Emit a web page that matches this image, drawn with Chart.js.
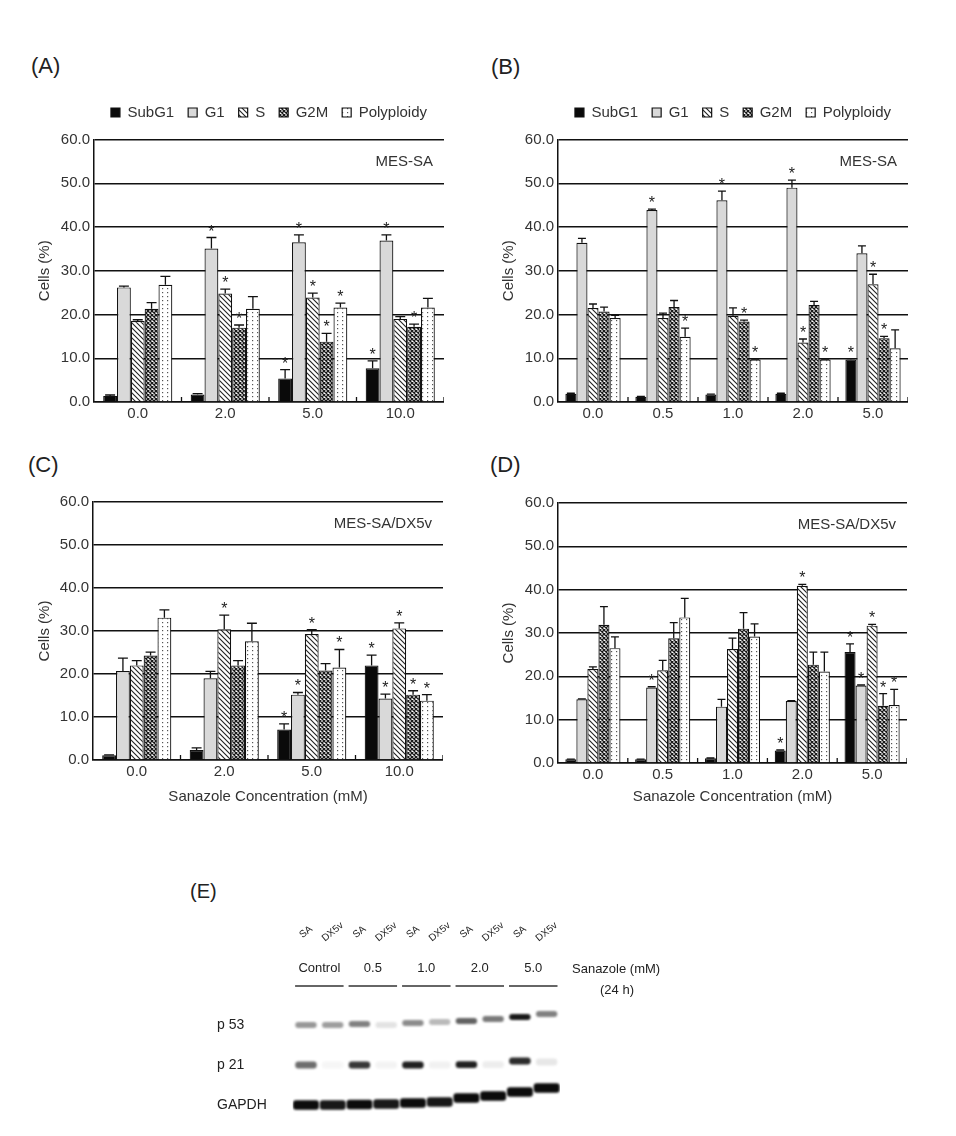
<!DOCTYPE html>
<html><head><meta charset="utf-8">
<script src="https://cdn.jsdelivr.net/npm/chart.js@4.4.1/dist/chart.umd.min.js"></script>
<style>
html,body{margin:0;padding:0;background:#fff;}
#page{position:relative;width:956px;height:1136px;overflow:hidden;font-family:"Liberation Sans",Arial,sans-serif;background:#fff;}
canvas{position:absolute;}
.plabel{position:absolute;font-size:22px;line-height:22px;color:#222;}
</style></head><body><div id="page">
<div class="plabel" style="left:31px;top:55px">(A)</div>
<div class="plabel" style="left:491px;top:56px">(B)</div>
<div class="plabel" style="left:28px;top:454px">(C)</div>
<div class="plabel" style="left:490px;top:454px">(D)</div>
<div class="plabel" style="left:190px;top:881px;font-size:20px;line-height:20px">(E)</div>
<canvas id="cA" width="444" height="341" style="left:0px;top:91px"></canvas>
<canvas id="cB" width="444" height="341" style="left:464px;top:91px"></canvas>
<canvas id="cC" width="443" height="321" style="left:0px;top:489px"></canvas>
<canvas id="cD" width="443" height="323" style="left:464px;top:490px"></canvas>
<canvas id="cE" width="520" height="266" style="left:180px;top:870px"></canvas>
</div>
<script>
// ---------- categories / labels ----------
const phases = ['SubG1', 'G1', 'S', 'G2M', 'Polyploidy'];
const concAC = ['0.0', '2.0', '5.0', '10.0'];
const concBD = ['0.0', '0.5', '1.0', '2.0', '5.0'];
const yTickValues = [0, 10, 20, 30, 40, 50, 60];

// ---------- Panel A (MES-SA) ----------
const aSubG1 = [1.4, 1.7, 5.4, 7.7];
const aG1 = [26.2, 35.1, 36.5, 36.9];
const aS = [18.5, 24.8, 23.9, 19.0];
const aG2M = [21.3, 17.0, 13.8, 17.2];
const aPoly = [26.8, 21.3, 21.6, 21.6];
const aSubG1Err = [0.2, 0.2, 2.0, 1.7];
const aG1Err = [0.3, 2.5, 1.7, 1.3];
const aSErr = [0.3, 1.0, 1.0, 0.5];
const aG2MErr = [1.4, 0.6, 1.9, 0.6];
const aPolyErr = [1.9, 2.8, 1.0, 2.1];
const aSubG1Sig = [0, 0, 1, 1];
const aG1Sig = [0, 1, 1, 1];
const aSSig = [0, 1, 1, 0];
const aG2MSig = [0, 1, 1, 1];
const aPolySig = [0, 0, 1, 0];

// ---------- Panel B (MES-SA) ----------
const bSubG1 = [1.9, 1.2, 1.7, 1.9, 9.7];
const bG1 = [36.4, 43.9, 46.1, 49.0, 34.0];
const bS = [21.5, 19.2, 19.7, 13.6, 26.9];
const bG2M = [20.7, 21.7, 18.4, 22.2, 14.6];
const bPoly = [19.2, 14.9, 9.7, 9.7, 12.3];
const bSubG1Err = [0.1, 0.1, 0.1, 0.1, 0.2];
const bG1Err = [1.0, 0.2, 2.1, 1.7, 1.7];
const bSErr = [0.9, 1.1, 1.8, 0.8, 2.3];
const bG2MErr = [1.0, 1.5, 0.3, 0.8, 0.4];
const bPolyErr = [0.6, 2.0, 0.1, 0.1, 4.2];
const bSubG1Sig = [0, 0, 0, 0, 1];
const bG1Sig = [0, 1, 1, 1, 0];
const bSSig = [0, 0, 0, 1, 1];
const bG2MSig = [0, 0, 1, 0, 1];
const bPolySig = [0, 1, 1, 1, 0];

// ---------- Panel C (MES-SA/DX5v) ----------
const cSubG1 = [1.1, 2.3, 7.1, 22.0];
const cG1 = [20.7, 19.0, 15.2, 14.3];
const cS = [22.0, 30.4, 29.3, 30.6];
const cG2M = [24.3, 22.0, 20.8, 15.2];
const cPoly = [33.1, 27.6, 21.5, 13.8];
const cSubG1Err = [0.1, 0.5, 1.3, 2.4];
const cG1Err = [3.0, 1.6, 0.5, 1.0];
const cSErr = [1.1, 3.3, 1.0, 1.3];
const cG2MErr = [0.8, 1.1, 1.6, 0.9];
const cPolyErr = [1.8, 4.2, 4.2, 1.4];
const cSubG1Sig = [0, 0, 1, 1];
const cG1Sig = [0, 0, 1, 1];
const cSSig = [0, 1, 1, 1];
const cG2MSig = [0, 0, 0, 1];
const cPolySig = [0, 0, 1, 1];

// ---------- Panel D (MES-SA/DX5v) ----------
const dSubG1 = [0.85, 0.85, 1.1, 2.9, 25.6];
const dG1 = [14.7, 17.4, 13.0, 14.3, 17.9];
const dS = [21.7, 21.4, 26.3, 40.9, 31.7];
const dG2M = [31.9, 28.8, 31.0, 22.7, 13.2];
const dPoly = [26.5, 33.6, 29.2, 21.1, 13.4];
const dSubG1Err = [0.05, 0.05, 0.05, 0.1, 1.9];
const dG1Err = [0.1, 0.2, 1.7, 0.1, 0.1];
const dSErr = [0.5, 2.3, 2.5, 0.3, 0.3];
const dG2MErr = [4.2, 3.6, 3.7, 2.9, 2.8];
const dPolyErr = [2.6, 4.4, 2.9, 4.5, 3.6];
const dSubG1Sig = [0, 0, 0, 1, 1];
const dG1Sig = [0, 1, 0, 0, 1];
const dSSig = [0, 0, 0, 1, 1];
const dG2MSig = [0, 0, 0, 0, 1];
const dPolySig = [0, 0, 0, 0, 1];

// ---------- Panel E (western blot) ----------
const lanes = ['SA', 'DX5v', 'SA', 'DX5v', 'SA', 'DX5v', 'SA', 'DX5v', 'SA', 'DX5v'];
const doseGroups = ['Control', '0.5', '1.0', '2.0', '5.0'];
const proteins = ['p 53', 'p 21', 'GAPDH'];
const p53Level = [0.45, 0.42, 0.55, 0.12, 0.5, 0.3, 0.68, 0.58, 1.0, 0.55];
const p21Level = [0.62, 0.04, 0.85, 0.05, 0.95, 0.06, 0.95, 0.08, 0.9, 0.1];
const gapdhLevel = [1.0, 0.95, 1.0, 0.95, 1.0, 0.95, 1.0, 1.0, 1.0, 1.0];
const p53Migration = [0, 0, 0.025, 0, 0.05, 0.075, 0.1, 0.15, 0.2, 0.275];
const p21Migration = [0, 0, 0, 0, 0, 0, 0.01, 0.01, 0.1, 0.075];
const gapdhMigration = [0, 0, 0.012, 0.025, 0.05, 0.075, 0.175, 0.225, 0.325, 0.425];
const treatmentLabel = 'Sanazole (mM)';
const timeLabel = '(24 h)';

// ---------- styling ----------
const FONT = '"Liberation Sans", Arial, sans-serif';
Chart.defaults.font.family = FONT;

function makePattern(kind) {
  const c = document.createElement('canvas');
  const g = c.getContext('2d');
  if (kind === 'hatch') {
    c.width = 5; c.height = 5;
    g.fillStyle = '#fff'; g.fillRect(0, 0, 5, 5);
    g.strokeStyle = '#222'; g.lineWidth = 1.1;
    g.beginPath();
    g.moveTo(-1, -1); g.lineTo(6, 6);
    g.moveTo(-1, 4); g.lineTo(1, 6);
    g.moveTo(4, -1); g.lineTo(6, 1);
    g.stroke();
  } else if (kind === 'cross') {
    c.width = 4; c.height = 4;
    g.fillStyle = '#fff'; g.fillRect(0, 0, 4, 4);
    g.strokeStyle = '#1a1a1a'; g.lineWidth = 1.3;
    g.beginPath();
    g.moveTo(-1, -1); g.lineTo(5, 5);
    g.moveTo(5, -1); g.lineTo(-1, 5);
    g.stroke();
  } else if (kind === 'dots') {
    c.width = 5; c.height = 4;
    g.fillStyle = '#fff'; g.fillRect(0, 0, 5, 4);
    g.fillStyle = '#555';
    g.fillRect(2, 1, 1.2, 1.2);
  }
  return g.createPattern(c, 'repeat');
}
const phaseFills = ['#0a0a0a', '#d9d9d9', makePattern('hatch'), makePattern('cross'), makePattern('dots')];

const panelDecor = {
  id: 'panelDecor',
  afterDatasetsDraw(chart, args, opts) {
    const { ctx, chartArea } = chart;
    const ys = chart.scales.y, xs = chart.scales.x;
    ctx.save();
    ctx.strokeStyle = '#111'; ctx.lineWidth = 1.3; ctx.fillStyle = '#222';
    ctx.font = '16px ' + FONT; ctx.textAlign = 'center'; ctx.textBaseline = 'alphabetic';
    chart.data.datasets.forEach((ds, di) => {
      chart.getDatasetMeta(di).data.forEach((bar, i) => {
        const top = ys.getPixelForValue(ds.data[i] + ds.errors[i]);
        const cap = bar.width * 0.36;
        ctx.beginPath();
        ctx.moveTo(bar.x, bar.y); ctx.lineTo(bar.x, top);
        ctx.moveTo(bar.x - cap, top); ctx.lineTo(bar.x + cap, top);
        ctx.stroke();
        if (ds.sig[i]) ctx.fillText('*', bar.x, top - 1);
      });
    });
    // inward category tick marks
    const n = xs.getLabels().length;
    const step = xs.width / n;
    ctx.lineWidth = 1.3;
    for (let i = 1; i <= n; i++) {
      const px = xs.left + i * step;
      ctx.beginPath(); ctx.moveTo(px, chartArea.bottom); ctx.lineTo(px, chartArea.bottom - 5); ctx.stroke();
    }
    ctx.font = '15px ' + FONT; ctx.textAlign = 'right'; ctx.textBaseline = 'middle'; ctx.fillStyle = '#333';
    ctx.fillText(opts.cellLine, chartArea.right - 11, chartArea.top + 22);
    ctx.restore();
  }
};

function makePanel(id, cats, vals, errs, sigs, opt) {
  const datasets = phases.map((p, k) => ({
    label: p, data: vals[k], errors: errs[k], sig: sigs[k],
    backgroundColor: phaseFills[k], borderColor: '#111', borderWidth: 1.2,
    categoryPercentage: 0.79, barPercentage: 1.0
  }));
  return new Chart(document.getElementById(id), {
    type: 'bar',
    data: { labels: cats, datasets },
    options: {
      responsive: false, animation: false,
      layout: { padding: { top: opt.legend ? 0 : 10, left: 0, right: 0, bottom: 0 } },
      plugins: {
        legend: { display: opt.legend, position: 'top', fullSize: false,
          labels: { boxWidth: 9, boxHeight: 9, padding: 14, color: '#333', font: { size: 15 } } },
        subtitle: { display: opt.legend, text: '', fullSize: false, weight: 500,
          padding: { top: 0, bottom: 1.5 }, font: { size: 8, lineHeight: 1 } },
        tooltip: { enabled: false },
        panelDecor: { cellLine: opt.cellLine }
      },
      scales: {
        x: {
          grid: { display: false, drawTicks: false },
          border: { color: '#111', width: 1.5 },
          ticks: { color: '#333', font: { size: 15 }, padding: 3 },
          title: { display: !!opt.xTitle, text: opt.xTitle || '', color: '#333', font: { size: 15 },
            padding: { top: 2, bottom: opt.titlePad || 0 } },
          afterFit: s => { s.height = opt.xh; }
        },
        y: {
          min: 0, max: 60,
          afterBuildTicks: s => { s.ticks = yTickValues.map(v => ({ value: v })); },
          ticks: { callback: v => Number(v).toFixed(1), color: '#333', font: { size: 15 }, padding: 4 },
          grid: { color: '#111', lineWidth: 1.5, drawTicks: false },
          border: { color: '#111', width: 1.5 },
          title: { display: true, text: 'Cells (%)', color: '#333', font: { size: 15 }, padding: { top: 36, bottom: 0 } },
          afterFit: s => { s.width = opt.yw; }
        }
      }
    },
    plugins: [panelDecor]
  });
}

makePanel('cA', concAC,
  [aSubG1, aG1, aS, aG2M, aPoly], [aSubG1Err, aG1Err, aSErr, aG2MErr, aPolyErr],
  [aSubG1Sig, aG1Sig, aSSig, aG2MSig, aPolySig],
  { legend: true, cellLine: 'MES-SA', yw: 94, xh: 30 });
makePanel('cB', concBD,
  [bSubG1, bG1, bS, bG2M, bPoly], [bSubG1Err, bG1Err, bSErr, bG2MErr, bPolyErr],
  [bSubG1Sig, bG1Sig, bSSig, bG2MSig, bPolySig],
  { legend: true, cellLine: 'MES-SA', yw: 94, xh: 30 });
makePanel('cC', concAC,
  [cSubG1, cG1, cS, cG2M, cPoly], [cSubG1Err, cG1Err, cSErr, cG2MErr, cPolyErr],
  [cSubG1Sig, cG1Sig, cSSig, cG2MSig, cPolySig],
  { legend: false, cellLine: 'MES-SA/DX5v', yw: 93, xh: 50, xTitle: 'Sanazole Concentration (mM)', titlePad: 4 });
makePanel('cD', concBD,
  [dSubG1, dG1, dS, dG2M, dPoly], [dSubG1Err, dG1Err, dSErr, dG2MErr, dPolyErr],
  [dSubG1Sig, dG1Sig, dSSig, dG2MSig, dPolySig],
  { legend: false, cellLine: 'MES-SA/DX5v', yw: 94, xh: 50, xTitle: 'Sanazole Concentration (mM)', titlePad: 7 });

// ---------- Blot ----------
function bandSpans(row, migration, thickness) {
  return migration.map(m => [row - m - thickness / 2, row - m + thickness / 2]);
}
const blurPlugin = {
  id: 'blurBands',
  beforeDatasetsDraw(c) { c.ctx.save(); c.ctx.filter = 'blur(0.9px)'; },
  afterDatasetsDraw(c) { c.ctx.restore(); }
};
const blotDecor = {
  id: 'blotDecor',
  afterDraw(chart) {
    const { ctx, chartArea } = chart;
    const xs = chart.scales.x;
    const half = (xs.getPixelForValue(1) - xs.getPixelForValue(0)) / 2;
    ctx.save();
    ctx.fillStyle = '#222'; ctx.strokeStyle = '#333';
    ctx.font = '10px ' + FONT; ctx.textAlign = 'center'; ctx.textBaseline = 'middle';
    lanes.forEach((l, i) => {
      ctx.save();
      ctx.translate(xs.getPixelForValue(i), chartArea.top - 73);
      ctx.rotate(-0.68);
      ctx.fillText(l, 0, 0);
      ctx.restore();
    });
    ctx.font = '13px ' + FONT; ctx.lineWidth = 1.6;
    doseGroups.forEach((g, k) => {
      const x0 = xs.getPixelForValue(2 * k) - half, x1 = xs.getPixelForValue(2 * k + 1) + half;
      ctx.fillText(g, (x0 + x1) / 2, chartArea.top - 37);
      ctx.beginPath(); ctx.moveTo(x0 + 2.5, chartArea.top - 19); ctx.lineTo(x1 - 2.5, chartArea.top - 19); ctx.stroke();
    });
    ctx.textAlign = 'left';
    ctx.fillText(treatmentLabel, chartArea.right + 12, chartArea.top - 36);
    ctx.textAlign = 'center';
    ctx.fillText(timeLabel, chartArea.right + 57, chartArea.top - 15);
    ctx.restore();
  }
};
new Chart(document.getElementById('cE'), {
  type: 'bar',
  data: {
    labels: lanes,
    datasets: [
      { label: proteins[0], data: bandSpans(0.5, p53Migration, 0.15),
        backgroundColor: p53Level.map(a => `rgba(25,25,25,${a})`), barPercentage: 0.8, categoryPercentage: 1 },
      { label: proteins[1], data: bandSpans(1.5, p21Migration, 0.17),
        backgroundColor: p21Level.map(a => `rgba(20,20,20,${a})`), barPercentage: 0.8, categoryPercentage: 1 },
      { label: proteins[2], data: bandSpans(2.5, gapdhMigration, 0.24),
        backgroundColor: gapdhLevel.map(a => `rgba(12,12,12,${a})`), barPercentage: 0.97, categoryPercentage: 1 }
    ]
  },
  options: {
    responsive: false, animation: false,
    layout: { padding: { left: 37, right: 140, top: 135, bottom: 11 } },
    datasets: { bar: { grouped: false, borderRadius: 3, borderSkipped: false, borderWidth: 0 } },
    plugins: { legend: { display: false }, tooltip: { enabled: false } },
    scales: {
      x: { display: false },
      y: {
        min: 0, max: 3, reverse: true,
        grid: { display: false, drawTicks: false }, border: { display: false },
        afterBuildTicks: s => { s.ticks = proteins.map((p, i) => ({ value: i + 0.5 })); },
        ticks: { crossAlign: 'far', padding: 0, color: '#222', font: { size: 14 },
          callback: v => proteins[Math.floor(v)] },
        afterFit: s => { s.width = 75.6; }
      }
    }
  },
  plugins: [blurPlugin, blotDecor]
});
</script></body></html>
